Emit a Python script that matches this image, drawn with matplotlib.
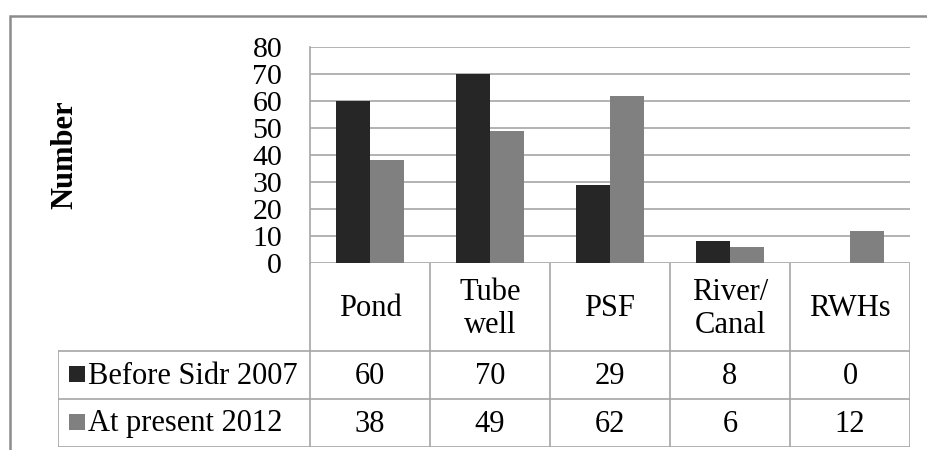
import matplotlib
matplotlib.use("Agg")
import matplotlib.pyplot as plt
import numpy as np
from matplotlib.patches import Rectangle

# Water sources and household counts
categories = ["Pond", "Tube\nwell", "PSF", "River/\nCanal", "RWHs"]
series_names = ["Before Sidr 2007", "At present 2012"]
before_2007 = [60, 70, 29, 8, 0]
present_2012 = [38, 49, 62, 6, 12]
yticks = [0, 10, 20, 30, 40, 50, 60, 70, 80]

colors = ["#262626", "#808080"]
line_col = "#a6a6a6"
plt.rcParams["font.family"] = "serif"
plt.rcParams["font.serif"] = ["Liberation Serif", "DejaVu Serif"]

W, H = 928, 450
fig = plt.figure(figsize=(W / 100, H / 100), dpi=100)

def fx(px):
    return px / W

def fy(py):
    return 1 - py / H

# Outer chart frame
fig.patches.append(Rectangle((fx(10.5), fy(470)), fx(940), fy(15.5) - fy(470),
                             transform=fig.transFigure, fill=False,
                             edgecolor="#8c8c8c", linewidth=1.8))

# Plot area
left, right, top, bottom = 310, 910, 47, 263
ax = fig.add_axes([fx(left), fy(bottom), fx(right) - fx(left), fy(top) - fy(bottom)])
n = len(categories)
x = np.arange(n)
bw = 0.283
ax.bar(x - bw / 2, before_2007, bw, color=colors[0], zorder=3)
ax.bar(x + bw / 2, present_2012, bw, color=colors[1], zorder=3)
ax.set_xlim(-0.5, n - 0.5)
ax.set_ylim(0, 80)
ax.set_yticks(yticks)
ax.set_yticklabels([str(v) for v in yticks], fontsize=21.5)
ax.tick_params(axis="y", length=0, pad=20)
ax.set_xticks([])
ax.yaxis.grid(True, color=line_col, linewidth=1.2, zorder=0)
for s in ["top", "right", "bottom"]:
    ax.spines[s].set_visible(False)
ax.spines["left"].set_color(line_col)
ax.spines["left"].set_linewidth(1.2)

fig.text(fx(65), fy(155), "Number", rotation=90, ha="center", va="center",
         fontsize=22, fontweight="bold")

# Data table beneath the plot
tleft, tbottom = 58, 447
tax = fig.add_axes([fx(tleft), fy(tbottom), fx(right) - fx(tleft), fy(bottom) - fy(tbottom)])
x0 = -0.5 - (left - tleft) / 120
tax.set_xlim(x0, n - 0.5)
tax.set_ylim(tbottom - bottom, 0)
tax.axis("off")

row_tops = [0, 88, 136, 184]
lk = dict(color=line_col, linewidth=1.2, solid_capstyle="butt")
for xv in np.arange(n + 1) - 0.5:
    tax.plot([xv, xv], [0, row_tops[-1]], **lk)
tax.plot([x0, x0], [row_tops[1], row_tops[-1]], **lk)
for yv in row_tops[1:]:
    tax.plot([x0, n - 0.5], [yv, yv], **lk)

for i, c in enumerate(categories):
    tax.text(i, row_tops[0] + 46, c, ha="center", va="center",
             fontsize=22, linespacing=1.15)

rows = [before_2007, present_2012]
for r, vals in enumerate(rows):
    yc = (row_tops[r + 1] + row_tops[r + 2]) / 2
    for i, v in enumerate(vals):
        tax.text(i, yc + 1, str(v), ha="center", va="center", fontsize=22)
    mx = x0 + (77 - tleft) / 120
    tax.plot([mx], [yc - 1], marker="s", markersize=11, color=colors[r],
             markeredgewidth=0)
    tax.text(x0 + (88 - tleft) / 120, yc + 1, series_names[r], ha="left",
             va="center", fontsize=22)

fig.savefig("out.png", dpi=100)
